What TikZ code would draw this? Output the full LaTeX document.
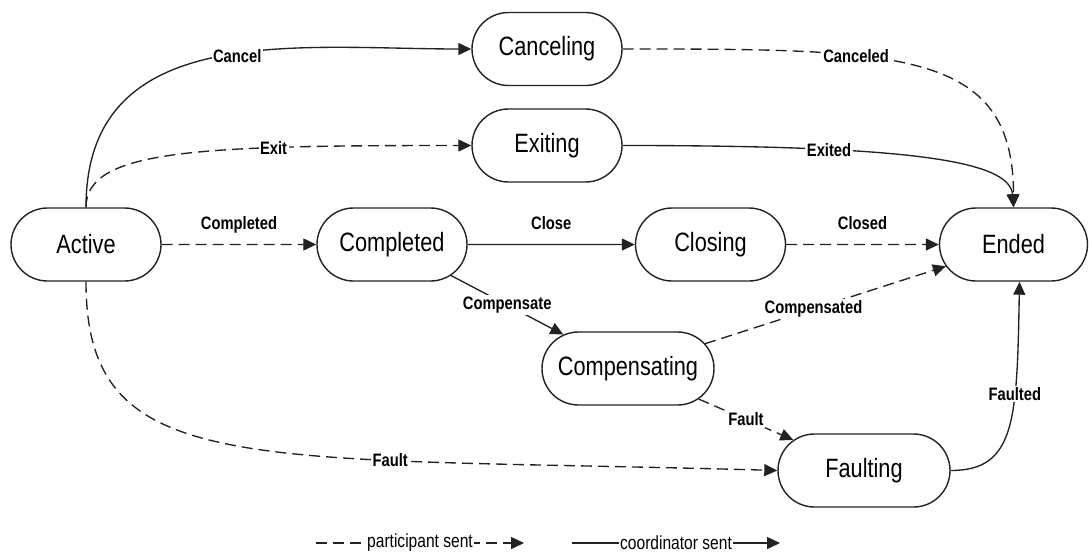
\documentclass[tikz,border=0pt]{standalone}
\usepackage{fontspec}
\setmainfont{Liberation Sans}[FakeStretch=0.82]
\usetikzlibrary{shapes.misc,arrows.meta}
\definecolor{linec}{HTML}{222222}
\begin{document}
\begin{tikzpicture}[x=1pt,y=-1pt,
  state/.style={rounded rectangle, draw=linec, line width=1.4pt,
    minimum width=150pt, minimum height=73pt, inner sep=0pt,
    font=\fontsize{26.5}{30}\selectfont},
  wide/.style={state, minimum width=172pt},
  edge/.style={draw=linec, line width=1.35pt, -{Triangle[length=13pt,width=12pt]}},
  part/.style={edge, dash pattern=on 11pt off 6pt},
  coord/.style={edge},
  lbl/.style={font=\bfseries\fontsize{18}{20}\selectfont, fill=white, inner sep=1.5pt},
  toplbl/.style={font=\bfseries\fontsize{18}{20}\selectfont, inner sep=0pt, anchor=base},
  legend/.style={font=\fontsize{19}{21}\selectfont, fill=white, inner sep=1pt},
]
\useasboundingbox (0,0) rectangle (1089,552);

% states
\node[state] (act)  at (86,244.5)    {Active};
\node[state] (cmp)  at (392,244.5)   {Completed};
\node[state] (cls)  at (710.5,244.5) {Closing};
\node[state, minimum width=148pt] (end) at (1013.5,244.5) {Ended};
\node[state] (cnl)  at (547,49)      {Canceling};
\node[state] (ext)  at (547,145.5)   {Exiting};
\node[wide]  (cmpg) at (628,368.5)   {Compensating};
\node[wide]  (flt)  at (864,470.5)   {Faulting};

% transitions out of Active
\draw[coord] (act.north) .. controls +(0,-188) and +(-172,0) ..
  node[lbl, pos=0.55, yshift=-3pt] {Cancel} (cnl.west);
\draw[part] (act.north) .. controls +(0,-58) and +(-272,0) ..
  node[lbl, pos=0.71] {Exit} (ext.west);
\draw[part] (act) -- node[toplbl, yshift=15pt] {Completed} (cmp);
\draw[part] (act.south) .. controls +(0,199) and +(-528,-15) ..
  node[lbl, pos=0.695] {Fault} (flt.west);

% transitions out of Completed
\draw[coord] (cmp) -- node[toplbl, yshift=15pt] {Close} (cls);
\draw[coord] (cmp) -- node[lbl] {Compensate} (cmpg);

% transitions into Ended
\draw[part] (cls) -- node[toplbl, yshift=15pt] {Closed} (end);
\draw[part] (cnl.east) .. controls +(278,0) and +(0,-158) ..
  node[lbl, pos=0.35] {Canceled} (end.north);
\draw[coord] (ext.east) .. controls +(278,0) and +(-3.5,-48) ..
  node[lbl, pos=0.3] {Exited} (end.north);
\draw[part] (cmpg) -- node[lbl, pos=0.45] {Compensated} (end);
\draw[coord] (flt.east) .. controls +(65,0) and +(-2.5,138.5) ..
  node[lbl, pos=0.66] {Faulted} ([xshift=6pt]end.south);

% Compensating fails
\draw[part] (cmpg) -- node[lbl] {Fault} (flt);

% legend
\coordinate (pa) at (316,543);
\coordinate (pb) at (524,543);
\coordinate (ca) at (572,543);
\coordinate (cb) at (780,543);
\draw[part] (pa) -- node[legend] {participant sent} (pb);
\draw[coord] (ca) -- node[legend] {coordinator sent} (cb);
\end{tikzpicture}
\end{document}
